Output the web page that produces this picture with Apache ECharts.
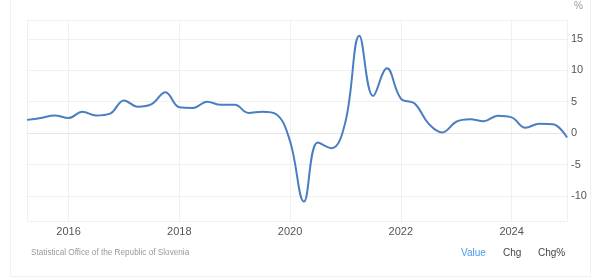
<!DOCTYPE html>
<html>
<head>
<meta charset="utf-8">
<script src="https://cdn.jsdelivr.net/npm/echarts@6/dist/echarts.min.js"></script>
<style>
html,body{margin:0;padding:0;background:#fff;}
#c{width:602px;height:280px;}
</style>
</head>
<body>
<div id="c"></div>
<script>
// Quarterly dates (quarter start) and YoY growth values (%)
const dates = [
  '2015-04-01','2015-07-01','2015-10-01',
  '2016-01-01','2016-04-01','2016-07-01','2016-10-01',
  '2017-01-01','2017-04-01','2017-07-01','2017-10-01',
  '2018-01-01','2018-04-01','2018-07-01','2018-10-01',
  '2019-01-01','2019-04-01','2019-07-01','2019-10-01',
  '2020-01-01','2020-04-01','2020-07-01','2020-10-01',
  '2021-01-01','2021-04-01','2021-07-01','2021-10-01',
  '2022-01-01','2022-04-01','2022-07-01','2022-10-01',
  '2023-01-01','2023-04-01','2023-07-01','2023-10-01',
  '2024-01-01','2024-04-01','2024-07-01','2024-10-01',
  '2025-01-01'
];
const values = [
  2.1, 2.4, 2.8,
  2.4, 3.4, 2.8, 3.1,
  5.2, 4.2, 4.6, 6.5,
  4.1, 4.0, 5.0, 4.5,
  4.5, 3.2, 3.4, 3.0,
  -1.3, -10.9, -1.5, -2.4,
  1.8, 15.5, 5.9, 10.3,
  5.5, 4.7, 1.5, 0.1,
  1.8, 2.2, 1.9, 2.75,
  2.5, 0.85, 1.5, 1.4,
  -0.7
];
const yTickLabels = ['-10', '-5', '0', '5', '10', '15'];
const xTickLabels = ['2016', '2018', '2020', '2022', '2024'];
const sourceText = 'Statistical Office of the Republic of Slovenia';
const buttonLabels = ['Value', 'Chg', 'Chg%'];
const unitLabel = '%';

function toYear(s) {
  const p = s.split('-').map(Number);
  return p[0] + (p[1] - 1) / 12 + (p[2] - 1) / 365;
}
const seriesData = dates.map((d, i) => [toYear(d), values[i]]);

const chart = echarts.init(document.getElementById('c'), null, {renderer: 'canvas'});
const gridColor = '#f0f0f0';
const labelColor = '#555';
chart.setOption({
  animation: false,
  backgroundColor: '#fff',
  grid: {left: 27, right: 35, top: 20, bottom: 59, containLabel: false},
  xAxis: {
    type: 'value',
    min: toYear(dates[0]),
    max: toYear(dates[dates.length - 1]),
    splitNumber: 5,
    axisLine: {show: true, lineStyle: {color: '#e6e6e6'}},
    axisTick: {show: false},
    splitLine: {show: true, lineStyle: {color: gridColor}},
    axisLabel: {
      showMinLabel: false, showMaxLabel: false,
      color: labelColor, fontSize: 11, fontFamily: 'Liberation Sans, Arial', margin: 5,
      formatter: v => (xTickLabels.indexOf(String(Math.round(v))) >= 0 && Math.abs(v - Math.round(v)) < 1e-6) ? String(Math.round(v)) : ''
    }
  },
  yAxis: {
    type: 'value',
    position: 'right',
    min: -14, max: 18,
    splitNumber: 5,
    axisLine: {show: false},
    axisTick: {show: false},
    splitLine: {show: true, lineStyle: {color: gridColor}},
    axisLabel: {
      showMinLabel: false, showMaxLabel: false,
      color: labelColor, fontSize: 11, fontFamily: 'Liberation Sans, Arial', margin: 4,
      formatter: v => yTickLabels.indexOf(String(v)) >= 0 ? String(v) : ''
    }
  },
  series: [{
    type: 'line',
    data: seriesData,
    smooth: 0.4,
    symbol: 'none',
    lineStyle: {color: '#4a7ec2', width: 2},
    itemStyle: {color: '#4a7ec2'}
  }],
  graphic: [
    {type: 'line', shape: {x1: 10.5, y1: 0, x2: 10.5, y2: 276.5}, style: {stroke: '#f0f0f0', lineWidth: 1}, silent: true},
    {type: 'line', shape: {x1: 590.5, y1: 0, x2: 590.5, y2: 276.5}, style: {stroke: '#f0f0f0', lineWidth: 1}, silent: true},
    {type: 'line', shape: {x1: 10.5, y1: 276.5, x2: 590.5, y2: 276.5}, style: {stroke: '#f0f0f0', lineWidth: 1}, silent: true},
    {type: 'text', left: 574, top: 1, style: {text: unitLabel, fill: '#999', font: '10px Liberation Sans, Arial'}},
    {type: 'text', left: 31, top: 249, style: {text: sourceText, fill: '#999', font: '8.2px Liberation Sans, Arial'}},
    {type: 'text', left: 461, top: 248, style: {text: buttonLabels[0], fill: '#4a9ae6', font: '10px Liberation Sans, Arial'}},
    {type: 'text', left: 503, top: 248, style: {text: buttonLabels[1], fill: '#444', font: '10px Liberation Sans, Arial'}},
    {type: 'text', left: 538, top: 248, style: {text: buttonLabels[2], fill: '#444', font: '10px Liberation Sans, Arial'}}
  ]
});
</script>
</body>
</html>
